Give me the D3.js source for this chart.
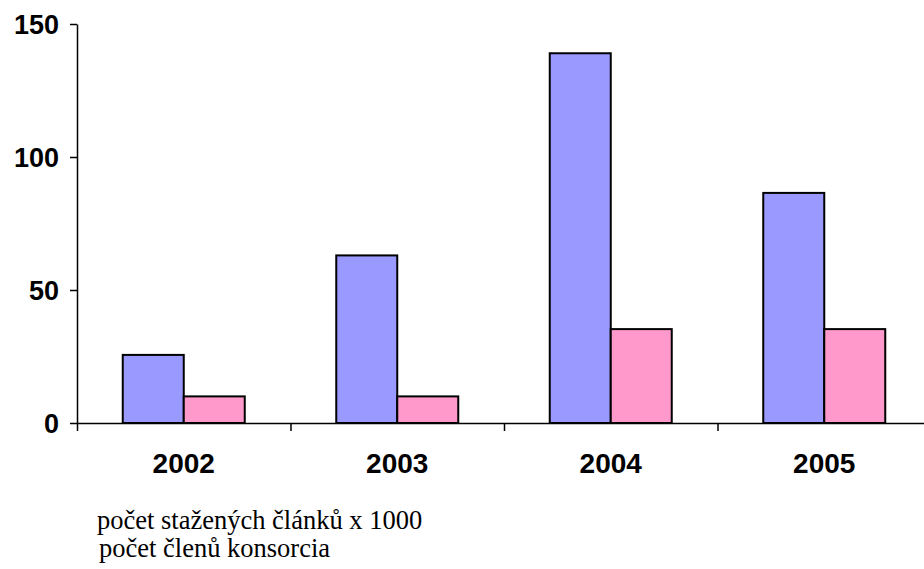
<!DOCTYPE html>
<html>
<head>
<meta charset="utf-8">
<script src="https://cdn.jsdelivr.net/npm/d3@7"></script>
<style>
  body { margin: 0; background: #fff; }
  svg { display: block; }
  .axis text { font-family: "Liberation Sans", Arial, sans-serif; font-weight: bold; fill: #000; }
  .axis path, .axis line { stroke: #000; stroke-width: 1.5; }
  .legend { font-family: "Liberation Serif", "Times New Roman", serif; fill: #000; }
</style>
</head>
<body>
<svg id="chart" width="924" height="569"></svg>
<script>
// data
const years = ['2002', '2003', '2004', '2005'];
const downloads = [25.6, 63, 139, 86.5];   // počet stažených článků x 1000
const members = [10, 10, 35.3, 35.3];      // počet členů konsorcia
const yTicks = [0, 50, 100, 150];
const seriesNames = ['počet stažených článků x 1000', 'počet členů konsorcia'];
const seriesColors = ['#9999FF', '#FF99CC'];

const svg = d3.select('#chart');

const plot = {left: 77, right: 931, top: 24, bottom: 423};

const x = d3.scaleBand().domain(years).range([plot.left, plot.right]).paddingInner(0);
const xInner = d3.scaleBand().domain([0, 1]).range([0, x.bandwidth()]).paddingOuter(0.75).paddingInner(0);
const y = d3.scaleLinear().domain([0, 150]).range([plot.bottom, plot.top]);

const rows = years.map((yr, i) => ({year: yr, vals: [downloads[i], members[i]]}));

// bars
const groups = svg.append('g').selectAll('g').data(rows).enter().append('g')
  .attr('transform', d => `translate(${x(d.year)},0)`);

groups.selectAll('rect').data(d => d.vals.map((v, k) => ({k, v})))
  .enter().append('rect')
  .attr('x', d => xInner(d.k))
  .attr('width', xInner.bandwidth())
  .attr('y', d => y(d.v))
  .attr('height', d => y(0) - y(d.v))
  .attr('fill', d => seriesColors[d.k])
  .attr('stroke', '#000')
  .attr('stroke-width', 2);

// y axis
const yAxis = svg.append('g').attr('class', 'axis')
  .attr('transform', `translate(${plot.left},0)`)
  .call(d3.axisLeft(y).tickValues(yTicks).tickSize(7).tickSizeOuter(0).tickPadding(11));
yAxis.selectAll('text').attr('font-size', 27).attr('dy', '0.35em');

// x axis: boundary ticks + year labels
const xEdge = d3.scaleLinear().domain([0, years.length]).range([plot.left, plot.right]);
svg.append('g').attr('class', 'axis')
  .attr('transform', `translate(0,${plot.bottom})`)
  .call(d3.axisBottom(xEdge).tickValues(d3.range(years.length + 1)).tickFormat('').tickSize(8).tickSizeOuter(0));

const xAxis = svg.append('g').attr('class', 'axis')
  .attr('transform', `translate(0,${plot.bottom})`)
  .call(d3.axisBottom(x).tickSize(0).tickPadding(30));
xAxis.select('.domain').remove();
xAxis.selectAll('text').attr('font-size', 28);

// legend (text only, as in the original)
svg.append('g').selectAll('text').data(seriesNames).enter().append('text')
  .attr('class', 'legend')
  .attr('x', (d, i) => i === 0 ? 97 : 99)
  .attr('y', (d, i) => 529 + i * 28)
  .attr('font-size', 26.5)
  .text(d => d);
</script>
</body>
</html>
